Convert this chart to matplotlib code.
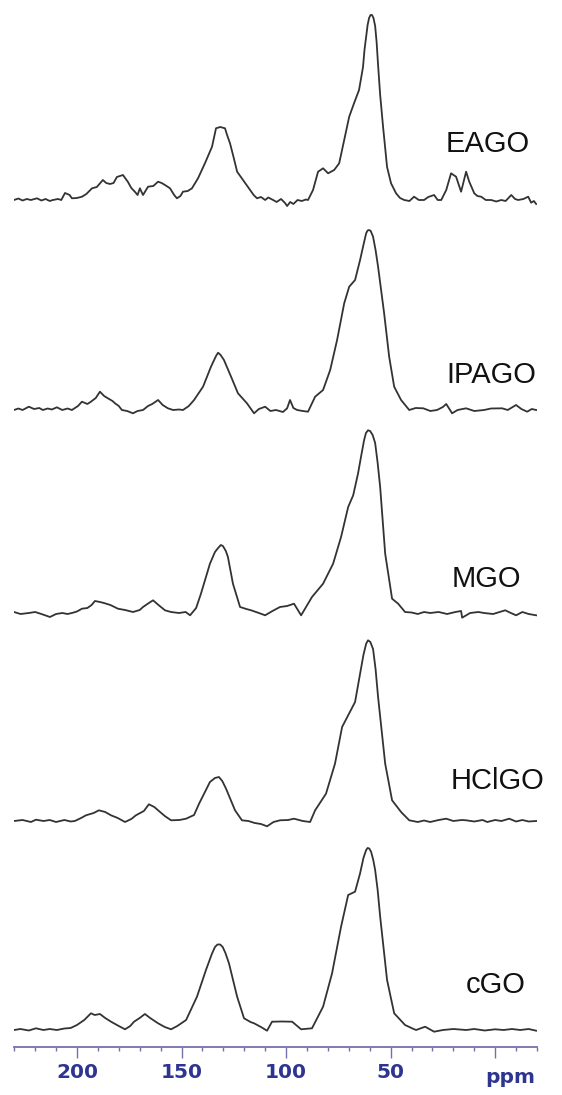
import matplotlib
matplotlib.use("Agg")
import matplotlib.pyplot as plt
from matplotlib.ticker import MultipleLocator, FixedLocator, FixedFormatter
from matplotlib.transforms import blended_transform_factory

# ---------------- data (ppm, intensity above own baseline) ----------------
EAGO = [(230.1, 0), (228, 1.5), (226, -0.5), (224, 1), (222, 0), (219.1, 1.7), (217, -0.5), (215, 1),
        (213, -1), (211.5, 0), (209, 1), (207.5, 0), (205.7, 7), (203.5, 5), (202.4, 1.7), (200, 2),
        (197.6, 3.3), (195.5, 6), (192.8, 11.7), (190.5, 13), (189.0, 16.7), (187.6, 20), (186, 17),
        (184.2, 16), (182.5, 17), (180.9, 23), (178.0, 25), (175.6, 18), (174, 12), (172.2, 8), (171, 5),
        (169.9, 11.7), (168.4, 5), (166.0, 13.3), (163.5, 14), (161.2, 18.3), (159.5, 17), (157.9, 15),
        (155.5, 11.7), (153.5, 5), (152.2, 1.7), (150.5, 4), (149.3, 8.3), (147, 9), (145.0, 11.7),
        (142.1, 21.7), (138.8, 36.7), (135.4, 53.3), (134.2, 65), (133.5, 71.7), (131.5, 73),
        (129.2, 71.7), (128.2, 65), (126.8, 56.7), (125, 42), (123.4, 28.3), (120.6, 20), (117.2, 10),
        (115.5, 5), (113.9, 1.7), (112, 3), (110, 0), (108.5, 2.5), (106.2, 0), (104.5, -2), (102.4, 1),
        (100.5, -3), (99.5, -6), (98, -2), (96.5, -4), (94.5, 0), (92.5, -1), (90.5, 0.5), (89.5, 0),
        (87.1, 10), (84.7, 28.3), (82.3, 31.7), (79.9, 26.7), (77.0, 30), (74.6, 36.7), (72.2, 60),
        (69.8, 83.3), (67.5, 96.7), (65.1, 110), (63.2, 133), (62.5, 150), (61.7, 163), (61.0, 175),
        (60.3, 182), (59.6, 185), (58.9, 185), (58.2, 182), (57.4, 174), (56.7, 158), (56.0, 135),
        (55.0, 105), (53.6, 73), (51.7, 33), (49.8, 16.7), (47.4, 6.7), (45.5, 2), (43.5, 0), (41, -1),
        (38.8, 3.3), (36.5, 0), (34.0, 0), (32, 3), (29.2, 5), (27.5, 0), (25.8, 0), (23.4, 10),
        (21.1, 26.7), (18.7, 23.3), (16.3, 8.3), (13.9, 28.3), (12.4, 18.3), (10.0, 6.7), (8.5, 4),
        (6.7, 3.3), (4.5, 0), (1.9, 0), (-0.5, -1.5), (-2.9, 0), (-5, -1), (-7.7, 5), (-9.5, 1),
        (-11.0, 0), (-13.5, 1), (-15.8, 3.3), (-17.2, -2.7), (-18.5, -1), (-19.6, -4)]

IPAGO = [(230.1, 0), (228, 1.5), (226, 0), (223.0, 3.3), (220.5, 1), (218, 2), (216.3, 0), (214, 1.5),
         (212, 0.5), (209.6, 2.7), (207, 0), (204.5, 1.5), (202.4, 0), (199.5, 4), (197.6, 8.3), (195, 6),
         (193.3, 8.3), (191, 12), (189.0, 18.3), (187, 14), (185.2, 11.7), (183, 9), (181.8, 6.7), (180, 4),
         (178.5, 0), (176, -1), (173.2, -3.3), (171, -1), (168.4, 0), (166, 4), (164, 6), (161.2, 10),
         (159, 5), (156.5, 1.7), (154, 0), (151.2, 0.5), (149.3, 0), (146.5, 4), (144.0, 10), (139.7, 23.3),
         (135.9, 43.3), (133.5, 54), (132.5, 57.3), (131.3, 55), (129.7, 50), (126.3, 33.3), (123.0, 16.7),
         (118.7, 6.7), (115.3, -3.3), (113, 1), (110.0, 3.3), (107.5, -1), (104.8, 0), (101.5, -2),
         (99.5, 1.7), (98.1, 10), (96.5, 2), (94.7, 0), (92, -1), (89.5, -1.7), (86.1, 13.3), (82.3, 20),
         (78.9, 40), (75.6, 70), (72.2, 106.7), (69.8, 123.3), (67.0, 130), (64.6, 150), (63.0, 165),
         (61.7, 176.7), (61.0, 179.5), (60.3, 180), (59.5, 179), (58.4, 173.3), (57.2, 160), (56.0, 143.3),
         (53.1, 96.7), (50.7, 53.3), (48.3, 23.3), (45.0, 10), (41.1, 0), (38, 2), (34.4, 1.7), (31, -1),
         (27.8, 0), (25, 3), (23.4, 6), (20.6, -3.3), (18, 0), (13.9, 1.7), (10, -1), (5.3, 0), (2, 1.5),
         (-3.3, 1.7), (-6, 0), (-10.0, 5), (-12.5, 1), (-15.3, -1.7), (-17.5, 1), (-19.6, 0)]

MGO = [(230.1, 1), (227, -1), (223.0, 0), (220, 1), (217, -1), (212.9, -4), (210, -1), (207, 0),
       (204.5, -1), (202.4, 0), (200, 1.5), (197.6, 4.3), (195, 5), (193, 8), (191.4, 12), (189, 11),
       (187.1, 10), (184, 8), (180.4, 4.3), (177, 3), (173.2, 1), (170, 3), (168.4, 6), (165.6, 10),
       (163.6, 12.7), (161, 8), (157.9, 2.7), (155, 1), (151.2, 0), (148, 1), (145.9, -2.3), (143, 5),
       (140.7, 19.3), (136.4, 49.3), (134.0, 61), (132.5, 65), (131.2, 68), (130.2, 67), (128.8, 62),
       (127.8, 56), (125.4, 29.3), (122.0, 6), (119, 4), (116.7, 2.7), (113, 0), (110.0, -2.3),
       (106.5, 2), (102.9, 6), (99.5, 7), (96.2, 9.3), (92.8, -2.3), (87.6, 16), (82.3, 29.3),
       (77.5, 49.3), (73.7, 76), (70.3, 106), (67.9, 117.7), (65.6, 139.3), (64.0, 158), (62.7, 172.7),
       (61.8, 180), (60.8, 182.7), (59.8, 182), (58.6, 178), (57.4, 170), (56.2, 150), (55.0, 126),
       (52.6, 59.3), (49.3, 14.3), (46.4, 9.3), (43.1, 1), (40, 0.5), (37, -1), (34, 1), (31.1, 0),
       (27, 1), (23, -1), (19, 1), (16.3, 2), (15.8, -4.7), (12, 0), (8, 1), (5.3, 0), (1, -1),
       (-4.8, 2.7), (-7.5, 0), (-10.0, -2.3), (-13, 1), (-16, -1), (-19.6, -2.3)]

HCLGO = [(230.1, 0), (226, 1), (222, -1), (219.6, 1.3), (216, 0), (213, 1), (210.0, -1), (206, 1),
         (203, -0.5), (201.0, 0), (198, 3), (195.7, 5.7), (192, 8), (189.5, 10.7), (186.5, 9),
         (183.7, 5.7), (180.5, 3), (177.0, -1), (174, 2), (171.8, 5.7), (168, 10), (165.6, 16.7),
         (163, 14), (161.2, 10.7), (158, 5), (155.0, 0.7), (151, 1), (147.8, 2.3), (144, 6), (141.6, 17.3),
         (136.4, 39), (134.0, 43), (132.1, 44), (130.5, 40), (128.7, 32.3), (124.4, 10.7), (121.1, 0.7),
         (118, 0), (115, -2), (112, -3), (109.1, -5.3), (106, -1), (102.9, 0.7), (99, 1), (96.2, 2.3),
         (92, 0), (88.5, -1), (86.1, 10.7), (80.9, 27.3), (76.6, 57.3), (73.2, 94), (70.3, 105.7),
         (67.0, 119), (64.6, 147.3), (63.0, 166), (61.7, 177.3), (60.8, 180.7), (59.7, 179), (58.4, 172),
         (57.2, 152), (56.0, 124), (52.6, 57.3), (49.3, 20.7), (45.0, 9), (41.1, 0.7), (37, -1), (34, 0.5),
         (31.1, -1), (27, 1), (23.4, 2.3), (20, 0), (16, 1), (13.9, 0.7), (10, -0.5), (6, 1), (3.8, -1),
         (0, 1), (-3, 0), (-6.7, 2.3), (-10, -0.5), (-13, 1), (-16, -0.5), (-19.6, 0)]

CGO = [(230.1, 0), (227, 1), (223, -0.5), (219.6, 1.7), (216, 0), (213, 1), (209.6, 0), (206, 1.5),
       (203, 2), (200.0, 5), (196.5, 10), (193.3, 16.7), (191.5, 15), (189.0, 16), (186.5, 12),
       (183.7, 8.3), (180, 4), (177.0, 0.7), (174.5, 4), (172.7, 8.3), (170, 12), (167.5, 16), (165, 12),
       (161.2, 6.7), (158, 3), (155.0, 0.7), (152, 4), (147.8, 10), (142.6, 33.3), (138.3, 60),
       (135.5, 76), (134.0, 83), (132.8, 85.5), (131.5, 85.5), (130.3, 83), (129.0, 77), (127.3, 66.7),
       (123.4, 33.3), (120.1, 11.7), (117, 8), (115.3, 6.7), (112, 3), (109.1, -0.7), (106.7, 8.3),
       (102, 8.5), (97.1, 8.3), (92.8, 0.7), (87.6, 1.7), (82.3, 23.3), (78.0, 56.7), (73.7, 103.3),
       (70.3, 135), (67.0, 138.3), (64.6, 156.7), (63.0, 172), (61.7, 180), (61.0, 182), (60.2, 181.5),
       (59.3, 178), (58.3, 170), (57.4, 160), (56.2, 140), (55.0, 113.3), (51.7, 50), (48.3, 16.7),
       (43.1, 5), (39, 1), (37.8, 0), (33.5, 3.3), (29.2, -1.7), (25, 0), (20, 1), (13.9, 0), (10, 1),
       (5, -0.5), (0.0, 0.7), (-4, 0), (-8, 1), (-12.0, 0), (-16, 1), (-19.6, -0.7)]

samples = ["EAGO", "IPAGO", "MGO", "HClGO", "cGO"]
spectra = [EAGO, IPAGO, MGO, HCLGO, CGO]
major_ticks = [200, 150, 100, 50, 0]
tick_labels = ["200", "150", "100", "50", ""]
axis_unit = "ppm"

# ---------------- layout (vertical stacking offsets, label anchors) ----------------
offsets = [848, 638, 435, 227, 18]
label_pos = [(23.9, 47.5), (23.4, 27), (20.6, 26), (21.5, 32), (13.9, 37)]

W, H = 562, 1095
fig = plt.figure(figsize=(W / 100, H / 100), dpi=100)
fig.patch.set_facecolor("white")
ax = fig.add_axes([14 / W, (H - 1047) / H, (537 - 14) / W, 1047 / H])
ax.set_xlim(230.1, -20.0)
ax.set_ylim(1, 1048)

trace_color = "#333333"
for name, spec, off, (lx, ly) in zip(samples, spectra, offsets, label_pos):
    xs = [p[0] for p in spec]
    ys = [p[1] + off for p in spec]
    ax.plot(xs, ys, color=trace_color, lw=1.3, solid_joinstyle="round")
    ax.text(lx, off + ly, name, fontsize=21, family="Liberation Sans",
            color="#111111", ha="left", va="baseline")

axis_col = "#7570aa"
label_col = "#2d3590"
tick_font = "DejaVu Sans"
for s in ["top", "left", "right"]:
    ax.spines[s].set_visible(False)
ax.spines["bottom"].set_color(axis_col)
ax.spines["bottom"].set_linewidth(1.3)
ax.set_yticks([])
ax.xaxis.set_major_locator(FixedLocator(major_ticks))
ax.xaxis.set_major_formatter(FixedFormatter(tick_labels))
ax.xaxis.set_minor_locator(MultipleLocator(10))
ax.tick_params(axis="x", which="major", direction="out", length=8, width=1.0,
               color=axis_col, pad=3.5, labelsize=14.5, labelcolor=label_col)
ax.tick_params(axis="x", which="minor", direction="out", length=3.2, width=1.0, color=axis_col)
for t in ax.get_xticklabels():
    t.set_fontweight("bold")
    t.set_family(tick_font)
ax.patch.set_alpha(0)

trans = blended_transform_factory(ax.transData, fig.transFigure)
ax.text(-7.2, 1 - 1083 / H, axis_unit, transform=trans, fontsize=14.5, fontweight="bold",
        family=tick_font, color=label_col, ha="center", va="baseline")

fig.savefig("out.png", dpi=100, facecolor="white")
